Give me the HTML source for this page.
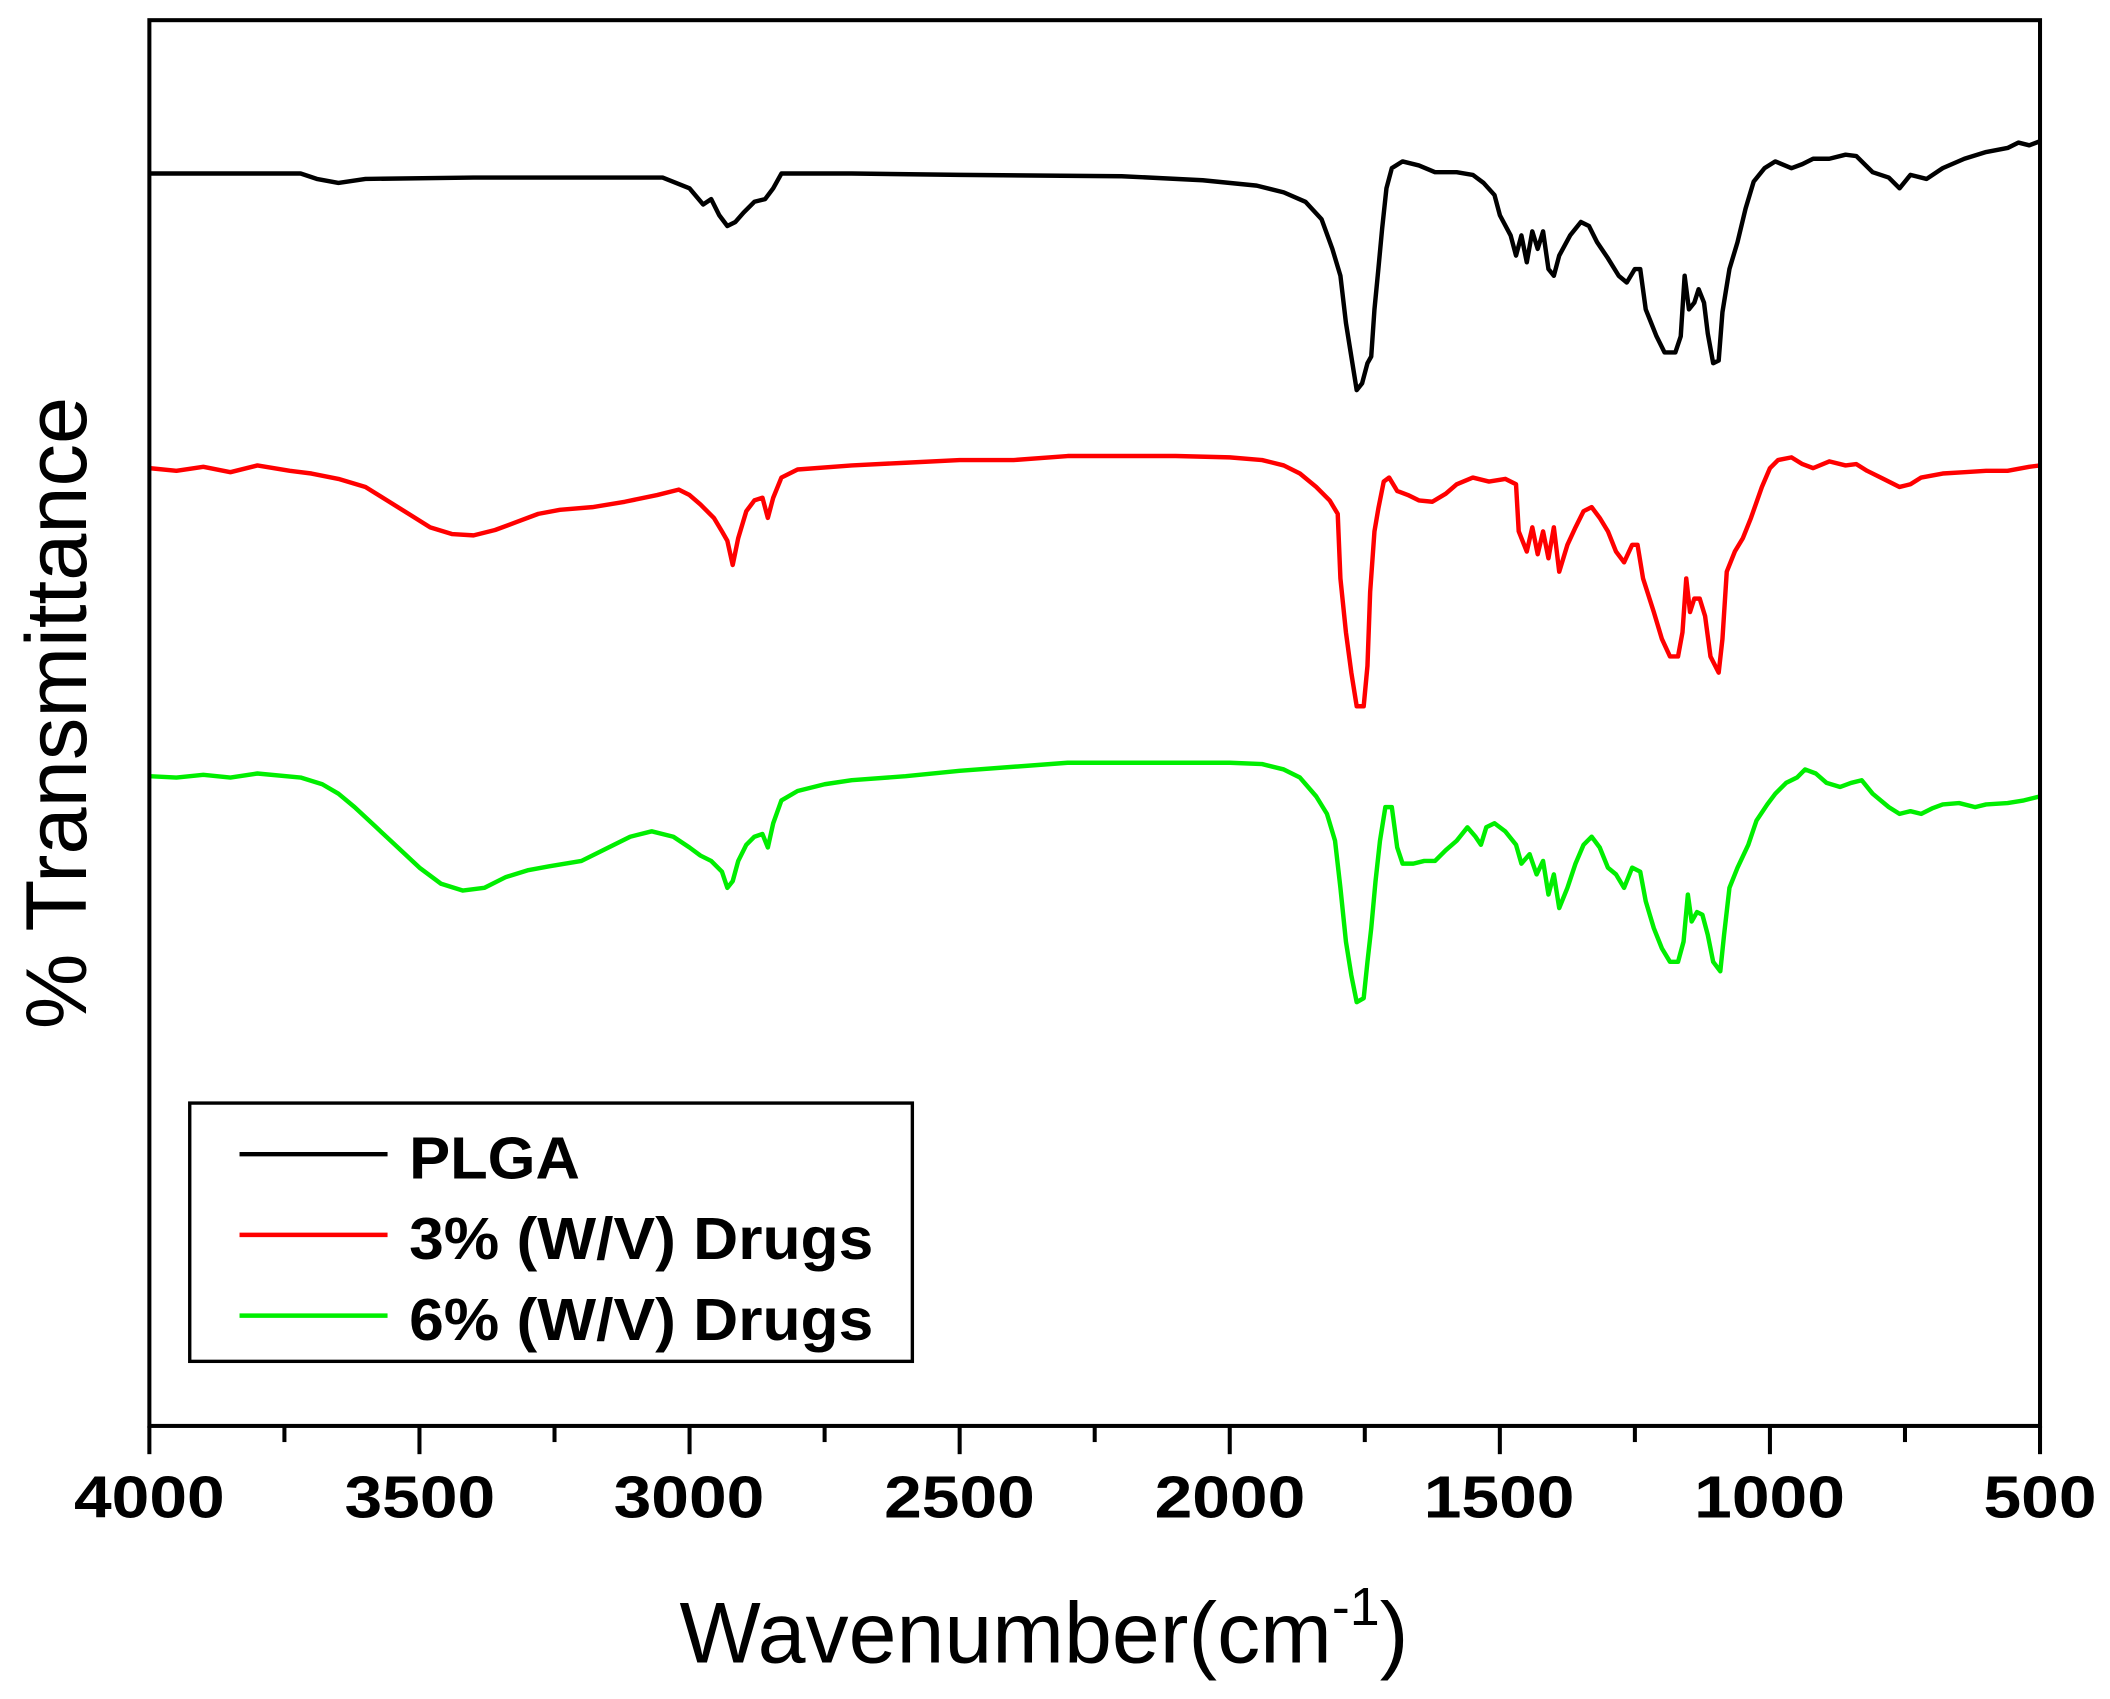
<!DOCTYPE html>
<html><head><meta charset="utf-8"><style>
html,body{margin:0;padding:0;background:#fff;}
svg{display:block;}
text{font-family:"Liberation Sans",Arial,sans-serif;fill:#000;}
</style></head><body>
<svg id="s" width="2110" height="1699" viewBox="0 0 1568 1263" preserveAspectRatio="none" xmlns="http://www.w3.org/2000/svg">
<rect x="0" y="0" width="1568" height="1263" fill="#fff"/>
<g id="curves" fill="none" stroke-width="3.3" stroke-linejoin="round"></g>
<rect x="111" y="15" width="1405" height="1045" fill="none" stroke="#000" stroke-width="3"/>
<g id="ticks" stroke="#000" stroke-width="3"></g>
<g font-weight="bold" font-size="44" text-anchor="middle">
<text x="111" y="1128" textLength="112" lengthAdjust="spacingAndGlyphs">4000</text>
<text x="312" y="1128" textLength="112" lengthAdjust="spacingAndGlyphs">3500</text>
<text x="512" y="1128" textLength="112" lengthAdjust="spacingAndGlyphs">3000</text>
<text x="713" y="1128" textLength="112" lengthAdjust="spacingAndGlyphs">2500</text>
<text x="914" y="1128" textLength="112" lengthAdjust="spacingAndGlyphs">2000</text>
<text x="1114" y="1128" textLength="112" lengthAdjust="spacingAndGlyphs">1500</text>
<text x="1315" y="1128" textLength="112" lengthAdjust="spacingAndGlyphs">1000</text>
<text x="1516" y="1128" textLength="84" lengthAdjust="spacingAndGlyphs">500</text>
</g>
<text x="505" y="1236" font-size="64">Wavenumber(cm<tspan font-size="40" dy="-28">-1</tspan><tspan dy="28">)</tspan></text>
<text transform="translate(64,530) rotate(-90)" font-size="64" text-anchor="middle" textLength="470" lengthAdjust="spacingAndGlyphs">% Transmittance</text>
<rect x="141" y="820" width="537" height="192" fill="#fff" stroke="#000" stroke-width="2.5"/>
<line x1="178" y1="858" x2="288" y2="858" stroke="#000" stroke-width="3.3"/>
<line x1="178" y1="918" x2="288" y2="918" stroke="#f00" stroke-width="3.3"/>
<line x1="178" y1="978" x2="288" y2="978" stroke="#0e0" stroke-width="3.3"/>
<g font-weight="bold" font-size="44">
<text x="304" y="876" textLength="127" lengthAdjust="spacingAndGlyphs">PLGA</text>
<text x="304" y="936" textLength="345" lengthAdjust="spacingAndGlyphs">3% (W/V) Drugs</text>
<text x="304" y="996" textLength="345" lengthAdjust="spacingAndGlyphs">6% (W/V) Drugs</text>
</g>
</svg>
<script>
function X(w){return 111+(4000-w)*1405/3500;}
var black=[[4000,129],[3720,129],[3690,133],[3650,136],[3600,133],[3400,132],[3050,132],[3000,140],[2975,152],[2960,148],[2945,160],[2930,168],[2915,165],[2900,158],[2880,150],[2860,148],[2845,140],[2830,129],[2700,129],[2500,130],[2200,131],[2050,134],[1950,138],[1900,143],[1860,150],[1830,163],[1810,185],[1795,205],[1785,240],[1775,265],[1765,290],[1755,285],[1745,270],[1738,265],[1732,230],[1725,200],[1718,170],[1710,140],[1700,125],[1680,120],[1650,123],[1620,128],[1580,128],[1550,130],[1530,136],[1510,145],[1500,160],[1480,175],[1470,190],[1460,175],[1450,195],[1440,172],[1430,185],[1420,172],[1410,200],[1400,205],[1390,190],[1370,175],[1350,165],[1335,168],[1320,180],[1300,192],[1280,205],[1265,210],[1250,200],[1240,200],[1230,230],[1210,250],[1195,262],[1175,262],[1165,250],[1158,205],[1150,230],[1140,225],[1132,215],[1122,225],[1115,248],[1105,270],[1095,268],[1088,232],[1075,200],[1060,180],[1045,155],[1030,135],[1010,125],[990,120],[960,125],[940,122],[920,118],[890,118],[860,115],[840,116],[810,128],[780,132],[760,140],[740,130],[710,133],[680,125],[640,118],[600,113],[560,110],[540,106],[520,108],[500,105]];
var red=[[4000,348],[3950,350],[3900,347],[3850,351],[3800,346],[3740,350],[3700,352],[3650,356],[3600,362],[3560,372],[3520,382],[3480,392],[3440,397],[3400,398],[3360,394],[3320,388],[3280,382],[3240,379],[3180,377],[3120,373],[3060,368],[3020,364],[3000,368],[2980,375],[2955,385],[2940,395],[2930,402],[2920,420],[2910,400],[2895,380],[2880,372],[2865,370],[2855,385],[2845,370],[2830,355],[2800,349],[2700,346],[2600,344],[2500,342],[2400,342],[2300,339],[2100,339],[2000,340],[1940,342],[1900,346],[1870,352],[1840,362],[1815,372],[1800,382],[1795,430],[1785,470],[1775,500],[1765,525],[1752,525],[1745,495],[1740,440],[1732,395],[1725,378],[1715,358],[1705,355],[1690,365],[1670,368],[1650,372],[1625,373],[1600,367],[1580,360],[1550,355],[1520,358],[1490,356],[1470,360],[1465,395],[1450,410],[1440,392],[1430,412],[1420,395],[1410,415],[1400,392],[1390,425],[1375,405],[1360,392],[1345,380],[1330,377],[1315,385],[1300,395],[1285,410],[1270,418],[1255,405],[1245,405],[1235,430],[1215,455],[1200,475],[1185,488],[1170,488],[1162,470],[1155,430],[1148,455],[1140,445],[1130,445],[1120,458],[1110,488],[1095,500],[1088,475],[1080,425],[1065,410],[1050,400],[1035,385],[1015,362],[1000,348],[985,342],[960,340],[940,345],[920,348],[890,343],[860,346],[840,345],[820,350],[790,356],[760,362],[740,360],[720,355],[680,352],[640,351],[600,350],[560,350],[520,347],[500,346]];
var green=[[4000,577],[3950,578],[3900,576],[3850,578],[3800,575],[3720,578],[3680,583],[3650,590],[3620,600],[3580,615],[3540,630],[3500,645],[3460,657],[3420,662],[3380,660],[3340,652],[3300,647],[3260,644],[3200,640],[3150,630],[3110,622],[3070,618],[3030,622],[3000,630],[2980,636],[2960,640],[2940,648],[2930,660],[2920,655],[2910,640],[2895,628],[2880,622],[2865,620],[2855,630],[2845,612],[2830,595],[2800,588],[2750,583],[2700,580],[2600,577],[2500,573],[2400,570],[2300,567],[2100,567],[2000,567],[1940,568],[1900,572],[1870,578],[1840,592],[1820,605],[1805,625],[1795,660],[1785,700],[1775,725],[1765,745],[1752,742],[1745,715],[1738,690],[1730,655],[1722,625],[1712,600],[1700,600],[1690,630],[1680,642],[1660,642],[1640,640],[1620,640],[1600,632],[1580,625],[1560,615],[1545,622],[1535,628],[1525,615],[1510,612],[1490,618],[1470,628],[1460,642],[1445,635],[1432,650],[1420,640],[1410,665],[1400,650],[1390,675],[1375,660],[1360,642],[1345,628],[1330,622],[1315,630],[1300,645],[1285,650],[1270,660],[1255,645],[1240,648],[1230,670],[1215,690],[1200,705],[1185,715],[1170,715],[1160,700],[1152,665],[1145,685],[1135,678],[1125,680],[1115,695],[1105,715],[1092,722],[1085,695],[1075,660],[1060,645],[1040,628],[1025,610],[1005,598],[990,590],[970,582],[950,578],[935,572],[915,575],[895,582],[870,585],[850,582],[830,580],[810,590],[780,600],[760,605],[740,603],[720,605],[700,601],[680,598],[650,597],[620,600],[600,598],[560,597],[530,595],[500,592]];
var g=document.getElementById('curves');
function add(d,c){var p=document.createElementNS('http://www.w3.org/2000/svg','polyline');p.setAttribute('points',d.map(function(q){return X(q[0]).toFixed(1)+','+q[1];}).join(' '));p.setAttribute('stroke',c);g.appendChild(p);}
add(black,'#000');add(red,'#f00');add(green,'#0e0');
var t=document.getElementById('ticks');
for(var w=4000;w>=500;w-=250){var L=document.createElementNS('http://www.w3.org/2000/svg','line');var x=X(w);L.setAttribute('x1',x);L.setAttribute('x2',x);L.setAttribute('y1',1060);L.setAttribute('y2',(w%500==0)?1081:1072);t.appendChild(L);}
</script>
</body></html>
